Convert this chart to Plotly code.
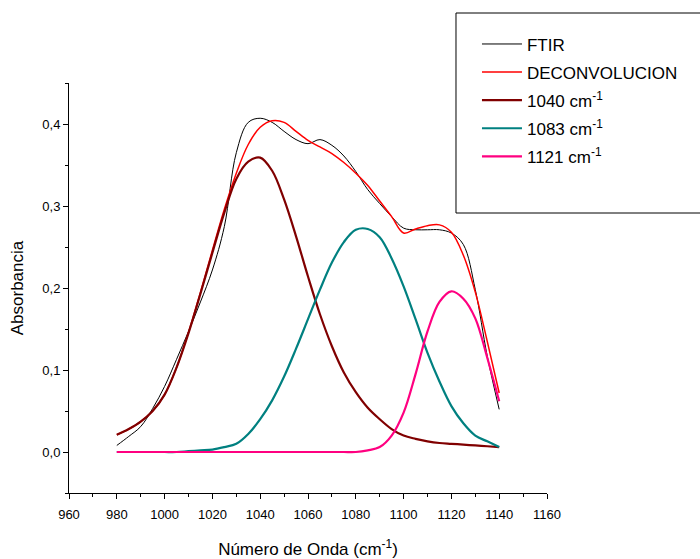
import plotly.graph_objects as go

# ---- data ----
x_ftir = [980, 985, 990, 995, 1000, 1005, 1010, 1015, 1020, 1025, 1030, 1035, 1040,
          1045, 1050, 1055, 1060, 1065, 1070, 1075, 1080, 1085, 1090, 1095, 1100,
          1105, 1110, 1115, 1120, 1125, 1130, 1135, 1140]
y_ftir = [0.008, 0.019, 0.031, 0.053, 0.080, 0.113, 0.147, 0.183, 0.222, 0.275, 0.365,
          0.402, 0.407, 0.402, 0.391, 0.381, 0.376, 0.381, 0.374, 0.361, 0.342, 0.320,
          0.303, 0.287, 0.273, 0.271, 0.271, 0.271, 0.267, 0.253, 0.198, 0.117, 0.052]

x_fit = [980, 985, 990, 995, 1000, 1005, 1010, 1015, 1020, 1025, 1030, 1035, 1040,
         1045, 1050, 1055, 1060, 1065, 1070, 1075, 1080, 1085, 1090, 1095, 1100,
         1105, 1110, 1115, 1120, 1125, 1130, 1135, 1140]
y_deconv = [0.021, 0.028, 0.037, 0.050, 0.070, 0.103, 0.146, 0.195, 0.246, 0.296, 0.340,
            0.375, 0.396, 0.404, 0.402, 0.391, 0.380, 0.372, 0.364, 0.353, 0.340, 0.325,
            0.306, 0.287, 0.267, 0.272, 0.276, 0.277, 0.268, 0.240, 0.195, 0.135, 0.072]
y_1040 = [0.021, 0.028, 0.037, 0.050, 0.070, 0.103, 0.145, 0.193, 0.243, 0.292, 0.333,
          0.354, 0.359, 0.343, 0.308, 0.263, 0.214, 0.168, 0.129, 0.097, 0.073, 0.054,
          0.040, 0.028, 0.020, 0.016, 0.013, 0.011, 0.010, 0.009, 0.008, 0.007, 0.006]
y_1083 = [0.0, 0.0, 0.0, 0.0, 0.0, 0.0, 0.001, 0.002, 0.003, 0.006, 0.010, 0.022, 0.040,
          0.063, 0.092, 0.126, 0.162, 0.198, 0.231, 0.256, 0.271, 0.272, 0.262, 0.236,
          0.202, 0.162, 0.121, 0.086, 0.056, 0.035, 0.020, 0.013, 0.006]
y_1121 = [0.0, 0.0, 0.0, 0.0, 0.0, 0.0, 0.0, 0.0, 0.0, 0.0, 0.0, 0.0, 0.0, 0.0, 0.0,
          0.0, 0.0, 0.0, 0.0, 0.0, 0.0, 0.002, 0.006, 0.020, 0.048, 0.095, 0.147, 0.183,
          0.196, 0.187, 0.163, 0.115, 0.062]

names = ["FTIR", "DECONVOLUCION", "1040 cm<sup>-1</sup>", "1083 cm<sup>-1</sup>",
         "1121 cm<sup>-1</sup>"]

FONT = "Arial, Liberation Sans, sans-serif"

series = [
    (x_ftir, y_ftir, names[0], "black", 1.0),
    (x_fit, y_deconv, names[1], "#ff0000", 1.5),
    (x_fit, y_1040, names[2], "#800000", 2.2),
    (x_fit, y_1083, names[3], "#008080", 2.2),
    (x_fit, y_1121, names[4], "#ff0080", 2.2),
]

fig = go.Figure()
for i, (xs, ys, nm, col, w) in enumerate(series):
    fig.add_trace(go.Scatter(x=xs, y=ys, mode="lines", name=nm, legendgroup=f"g{i}",
                             line=dict(color=col, width=w, shape="spline", smoothing=1.0)))

axis_common = dict(showline=True, linecolor="black", linewidth=1, showgrid=False,
                   zeroline=False, ticks="outside", ticklen=5, tickwidth=1,
                   tickcolor="black", mirror=False, automargin=False,
                   tickfont=dict(family=FONT, size=13, color="black"))

fig.update_xaxes(range=[960, 1160], tick0=960, dtick=20, ticklabelstandoff=4,
                 minor=dict(dtick=10, ticklen=3, tickcolor="black", ticks="outside"),
                 title=dict(text="Número de Onda (cm<sup>-1</sup>)",
                            font=dict(family=FONT, size=17, color="black"), standoff=22),
                 **axis_common)
fig.update_yaxes(range=[-0.05, 0.45], tick0=0, dtick=0.1, tickformat=".1f",
                 minor=dict(dtick=0.05, ticklen=3, tickcolor="black", ticks="outside"),
                 title=dict(text="Absorbancia",
                            font=dict(family=FONT, size=17, color="black"), standoff=14),
                 **axis_common)

# legend frame (extends past the right edge as in the original)
fig.add_shape(type="rect", xref="paper", yref="paper",
              x0=0.8096, x1=1.34, y0=0.6829, y1=1.1707,
              line=dict(color="black", width=1), fillcolor="rgba(0,0,0,0)")

fig.update_layout(
    width=700, height=559,
    margin=dict(l=69, r=153, t=83, b=66),
    paper_bgcolor="white", plot_bgcolor="white",
    separators=",.",
    font=dict(family=FONT, size=16, color="black"),
    showlegend=True,
    legend=dict(x=0.8535, y=1.138, xanchor="left", yanchor="top",
                bgcolor="rgba(0,0,0,0)", borderwidth=0,
                font=dict(family=FONT, size=17, color="black"),
                itemwidth=40, tracegroupgap=3, traceorder="grouped"),
)

fig.write_html("out.html")
